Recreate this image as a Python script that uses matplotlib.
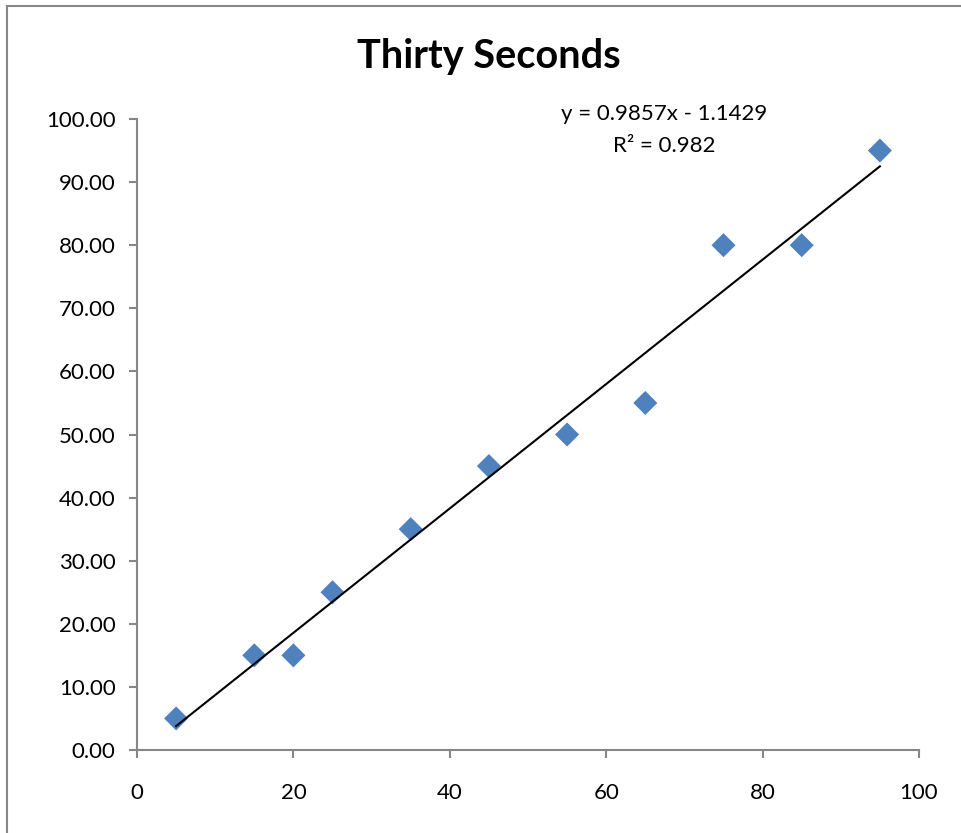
import matplotlib
matplotlib.use("Agg")
import matplotlib.pyplot as plt
import numpy as np
from matplotlib.patches import Rectangle

# reading scores vs. expected, thirty-second trial
x_values = [5, 15, 20, 25, 35, 45, 55, 65, 75, 85, 95]
y_values = [5, 15, 15, 25, 35, 45, 50, 55, 80, 80, 95]
title = "Thirty Seconds"

plt.rcParams["font.family"] = ["Lato", "DejaVu Sans"]

fig = plt.figure(figsize=(9.61, 8.33), dpi=100)
ax = fig.add_axes([137 / 961, 1 - 750 / 833, (919 - 137) / 961, (750 - 119) / 833])

# chart area border (Excel style)
fig.patches.append(Rectangle((7 / 961, -0.1), 1.2, 1 - 6 / 833 + 0.1,
                             transform=fig.transFigure, fill=False,
                             edgecolor="#868686", linewidth=1.5))

ax.scatter(x_values, y_values, marker="D", s=150, color="#4F81BD",
           edgecolors="none", zorder=3)

slope, intercept = np.polyfit(x_values, y_values, 1)
fit_x = np.array([min(x_values), max(x_values)])
ax.plot(fit_x, slope * fit_x + intercept, color="black", linewidth=1.5, zorder=4)

pred = slope * np.array(x_values) + intercept
ss_res = np.sum((np.array(y_values) - pred) ** 2)
ss_tot = np.sum((np.array(y_values) - np.mean(y_values)) ** 2)
r2 = 1 - ss_res / ss_tot
sign = "-" if intercept < 0 else "+"
ax.text(67.4, 100.8, f"y = {slope:.4f}x {sign} {abs(intercept):.4f}",
        ha="center", va="center", fontsize=16, clip_on=False)
ax.text(67.4, 95.7, f"R² = {r2:.3f}", ha="center", va="center", fontsize=16)

ax.set_xlim(0, 100)
ax.set_ylim(0, 100)
ax.set_xticks(np.arange(0, 101, 20))
ax.set_yticks(np.arange(0, 101, 10))
ax.set_yticklabels([f"{v:.2f}" for v in np.arange(0, 101, 10)])

for side in ["top", "right"]:
    ax.spines[side].set_visible(False)
for side in ["left", "bottom"]:
    ax.spines[side].set_color("#868686")
    ax.spines[side].set_linewidth(1.5)
ax.tick_params(axis="both", direction="out", length=6, width=1.5,
               color="#868686", labelsize=16)
ax.tick_params(axis="x", pad=18)
ax.tick_params(axis="y", pad=9.5)

fig.text(489 / 961, 1 - 68 / 833, title, ha="center", va="baseline",
         fontsize=28.5, fontweight="bold")

fig.savefig("out.png", dpi=100)
